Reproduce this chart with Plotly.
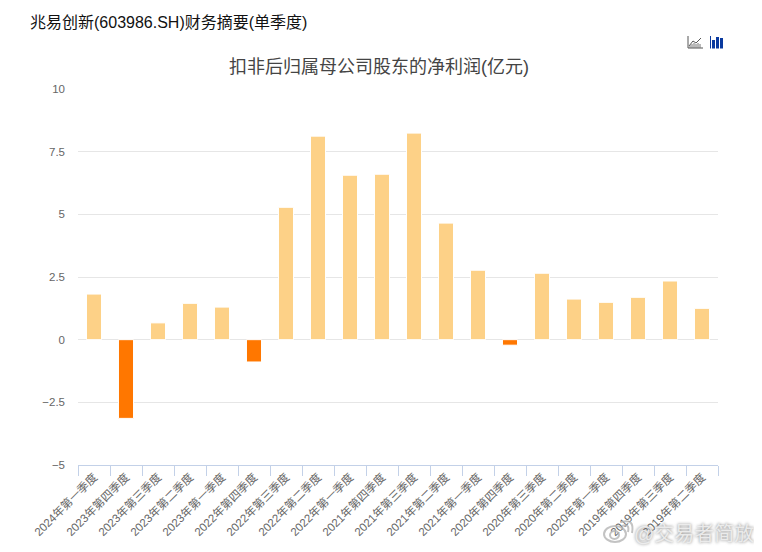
import plotly.graph_objects as go

quarters = ["2024年第一季度", "2023年第四季度", "2023年第三季度", "2023年第二季度", "2023年第一季度",
            "2022年第四季度", "2022年第三季度", "2022年第二季度", "2022年第一季度", "2021年第四季度",
            "2021年第三季度", "2021年第二季度", "2021年第一季度", "2020年第四季度", "2020年第三季度",
            "2020年第二季度", "2020年第一季度", "2019年第四季度", "2019年第三季度", "2019年第二季度"]
profit = [1.82, -3.14, 0.67, 1.45, 1.30, -0.89, 5.28, 8.12, 6.56, 6.60,
          8.24, 4.65, 2.77, -0.22, 2.65, 1.62, 1.49, 1.69, 2.34, 1.25]
y_ticks = [-5, -2.5, 0, 2.5, 5, 7.5, 10]
y_labels = ["−5", "−2.5", "0", "2.5", "5", "7.5", "10"]
header = "兆易创新(603986.SH)财务摘要(单季度)"
title = "扣非后归属母公司股东的净利润(亿元)"
watermark = "@交易者简放"

# the page has an 8 px body margin, so the figure is 8 px smaller than the window
OFF = 8
W, H = 762 - OFF, 552 - OFF
L, R, T, B = 78, 718, 89, 465
FONT = "Liberation Sans, Noto Sans CJK SC, sans-serif"
colors = ["#fdd187" if v >= 0 else "#ff7700" for v in profit]

fig = go.Figure(go.Bar(x=quarters, y=profit,
                       marker=dict(color=colors, line=dict(color="white", width=1)), width=0.47))


def px(x):
    return (x - L) / (R - L)


def py(y):
    return (B - y) / (B - T)


icons = []
icons.append(dict(type="path", path=f"M {px(688)} {py(36)} L {px(688)} {py(48)} L {px(703)} {py(48)}",
                  line=dict(color="#555555", width=1)))
icons.append(dict(type="path", path=f"M {px(689)} {py(46)} L {px(693)} {py(41)} L {px(696)} {py(43)} L {px(701)} {py(38)}",
                  line=dict(color="#555555", width=1)))
for xb, ht in [(690, 3), (692, 4), (694, 5), (696, 4), (698, 5), (700, 4)]:
    icons.append(dict(type="line", x0=px(xb), x1=px(xb), y0=py(48), y1=py(48 - ht),
                      line=dict(color="#777777", width=1)))
icons.append(dict(type="line", x0=px(710.5), x1=px(710.5), y0=py(36), y1=py(48.5), line=dict(color="#0a3a9f", width=1)))
for x0, top in [(712, 40), (716, 37), (720, 38)]:
    icons.append(dict(type="rect", x0=px(x0), x1=px(x0 + 3), y0=py(48.5), y1=py(top),
                      line_width=0, fillcolor="#0a3a9f"))
# watermark logo
WM = "rgba(180,180,180,0.8)"
icons.append(dict(type="circle", x0=px(604), x1=px(626), y0=py(542), y1=py(526), line=dict(color=WM, width=2)))
icons.append(dict(type="circle", x0=px(610), x1=px(619), y0=py(539), y1=py(531), line=dict(color=WM, width=2)))
icons.append(dict(type="path", path=f"M {px(622)} {py(526)} Q {px(630)} {py(523)} {px(628)} {py(532)}",
                  line=dict(color=WM, width=2)))
icons.append(dict(type="path", path=f"M {px(621)} {py(522)} Q {px(635)} {py(518)} {px(632)} {py(533)}",
                  line=dict(color=WM, width=2)))
for s in icons:
    s.update(xref="paper", yref="paper")

fig.update_layout(
    width=W, height=H, autosize=False,
    paper_bgcolor="white", plot_bgcolor="white",
    margin=dict(l=L - OFF, r=W + OFF - R, t=T - OFF, b=H + OFF - B, autoexpand=False),
    showlegend=False,
    font=dict(family=FONT, color="#666666", size=11),
    shapes=icons,
    annotations=[
        dict(text=header, x=px(27.5), y=py(22), xref="paper", yref="paper", xanchor="left", yanchor="middle",
             showarrow=False, font=dict(size=16, color="#111111", family=FONT)),
        dict(text=title, x=px(379), y=py(67), xref="paper", yref="paper", xanchor="center", yanchor="middle",
             showarrow=False, font=dict(size=18, color="#444444", family=FONT)),
        dict(text=watermark, x=px(756), y=py(534), xref="paper", yref="paper", xanchor="right", yanchor="middle",
             showarrow=False, font=dict(size=20, color="rgba(238,238,238,0.95)", family=FONT,
                                        shadow="0 0 3px #777777")),
    ],
)
fig.update_xaxes(type="category", categoryorder="array", categoryarray=quarters,
                 tickson="boundaries", ticks="outside", ticklen=10, tickwidth=1, tickcolor="#c3d1e8",
                 showline=True, linecolor="#c3d1e8", linewidth=1, showgrid=False, zeroline=False,
                 tickangle=-45, tickfont=dict(size=11.5, color="#666666", family=FONT), tickmode="array",
                 tickvals=quarters, ticktext=quarters)
fig.update_yaxes(range=[-5, 10], tickmode="array", tickvals=y_ticks, ticktext=y_labels,
                 showgrid=True, gridcolor="#e6e6e6", gridwidth=1, zeroline=True, zerolinecolor="#e6e6e6",
                 zerolinewidth=1, showline=False, ticks="", ticklabelstandoff=12,
                 tickfont=dict(size=11.5, color="#666666", family=FONT))

fig.write_html("out.html")
